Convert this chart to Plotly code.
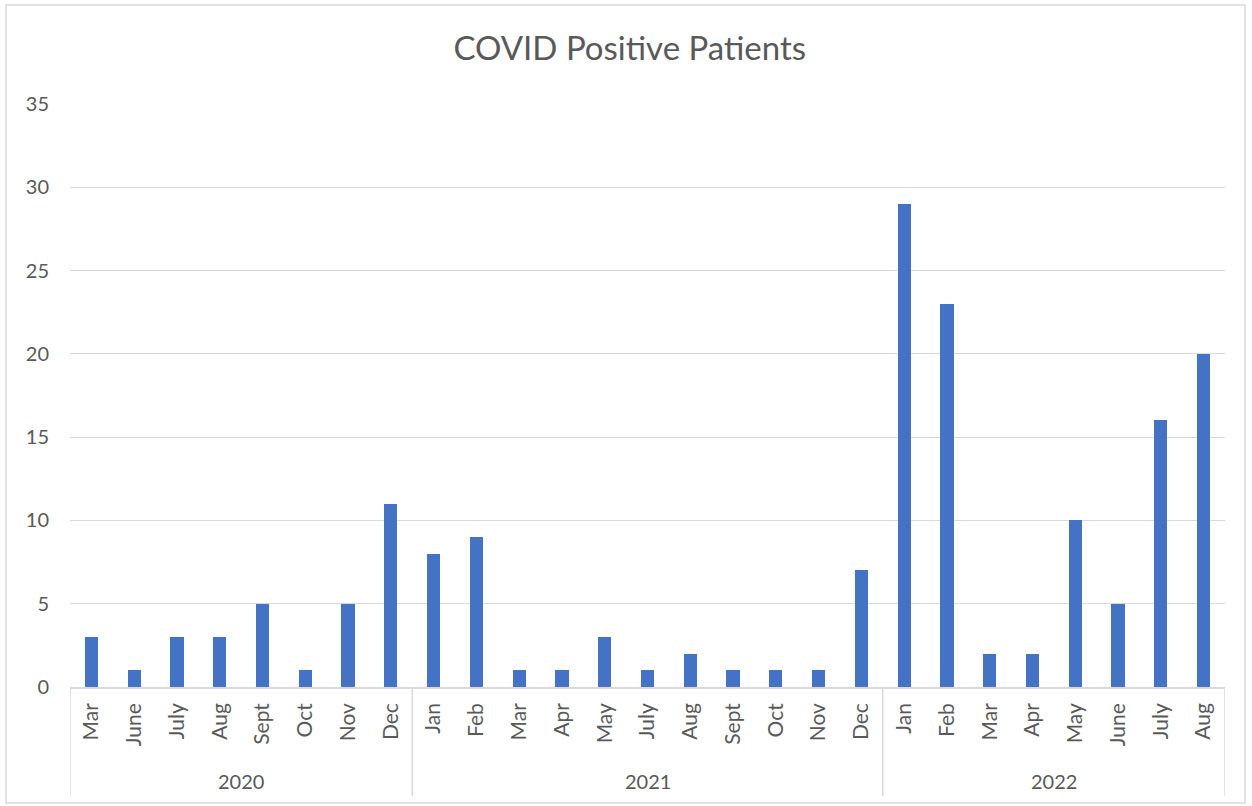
import plotly.graph_objects as go

years = ["2020"] * 8 + ["2021"] * 11 + ["2022"] * 8
months = ["Mar", "June", "July", "Aug", "Sept", "Oct", "Nov", "Dec",
          "Jan", "Feb", "Mar", "Apr", "May", "July", "Aug", "Sept", "Oct", "Nov", "Dec",
          "Jan", "Feb", "Mar", "Apr", "May", "June", "July", "Aug"]
counts = [3, 1, 3, 3, 5, 1, 5, 11,
          8, 9, 1, 1, 3, 1, 2, 1, 1, 1, 7,
          29, 23, 2, 2, 10, 5, 16, 20]

idx = list(range(len(months)))
W, H = 1252, 806
L, R, T, B = 70, 27, 104, 119
ph = H - T - B
pw = W - L - R

FONT = "Lato"
TXT = "#595959"
GRID = "#D9D9D9"

fig = go.Figure(go.Bar(x=idx, y=counts, width=0.31,
                       marker=dict(color="#4472C4", line=dict(width=0))))

# year groups
groups = []
for i, y in enumerate(years):
    if not groups or groups[-1][0] != y:
        groups.append([y, i, i])
    else:
        groups[-1][2] = i

ybot = (687 - 796) / ph
shapes = []
bounds = [g[1] - 0.5 for g in groups] + [groups[-1][2] + 0.5]
for b in bounds:
    shapes.append(dict(type="line", xref="x", yref="paper", x0=b, x1=b, y0=0, y1=ybot,
                       line=dict(color=GRID, width=1.5)))
annotations = []
for y, a, b in groups:
    annotations.append(dict(x=(a + b) / 2, y=(687 - 781) / ph, xref="x", yref="paper",
                            text=y, showarrow=False, yanchor="middle",
                            font=dict(family=FONT, size=20, color=TXT)))

# chart border
shapes.append(dict(type="rect", xref="paper", yref="paper",
                   x0=(6 - L) / pw, x1=(1245 - L) / pw,
                   y0=(687 - 803) / ph, y1=(687 - 5) / ph,
                   line=dict(color=GRID, width=1.5)))

fig.update_layout(
    width=W, height=H,
    margin=dict(l=L, r=R, t=T, b=B),
    paper_bgcolor="white", plot_bgcolor="white",
    title=dict(text="COVID Positive Patients", x=0.503, xanchor="center", y=(806 - 48) / 806, yanchor="middle",
               font=dict(family=FONT, size=33, color=TXT)),
    xaxis=dict(range=[-0.5, len(idx) - 0.5], tickvals=idx, ticktext=months, tickangle=-90,
               showgrid=False, showline=True, linecolor=GRID, linewidth=1.5, ticks="",
               ticklabelstandoff=6,
               tickfont=dict(family=FONT, size=21, color=TXT), zeroline=False, fixedrange=True),
    yaxis=dict(range=[0, 35], dtick=5, showgrid=True, gridcolor=GRID, gridwidth=1.2,
               zeroline=False, showline=False, ticks="", ticklabelstandoff=20,
               tickfont=dict(family=FONT, size=20, color=TXT)),
    shapes=shapes, annotations=annotations, showlegend=False, bargap=0,
)
fig.write_html("out.html", config={"displayModeBar": False},
               post_script="document.body.style.margin='0';document.body.style.overflow='hidden';")
